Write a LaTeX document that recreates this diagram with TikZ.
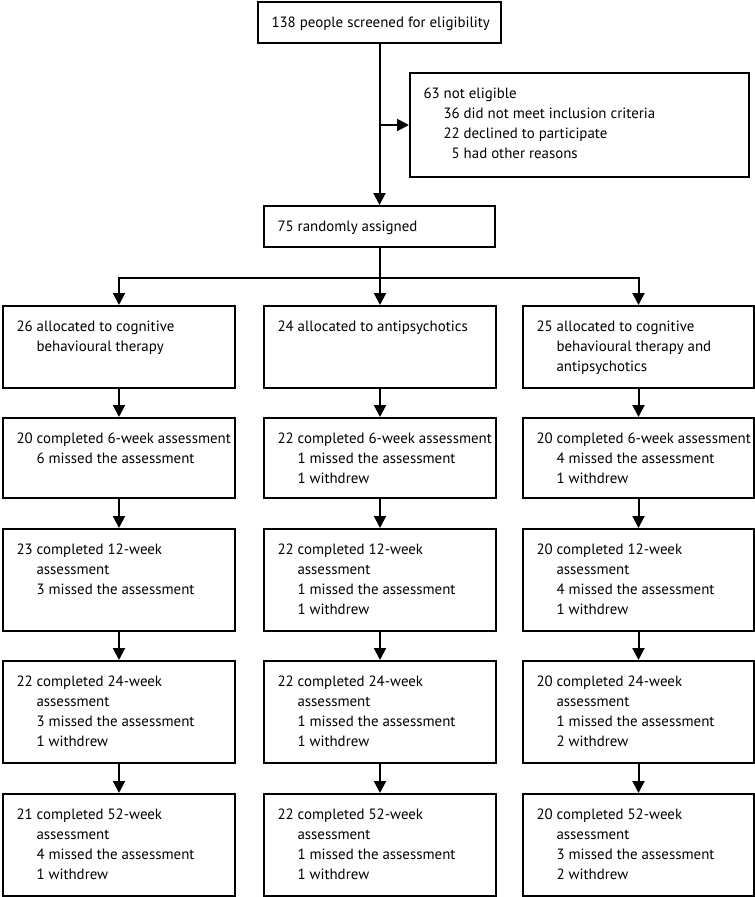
\documentclass[tikz,border=0pt]{standalone}
\usepackage{fontspec}
\setmainfont{PT Sans}
\usepackage{tikz}
\usetikzlibrary{
  calc,
  positioning,
  arrows.meta
}

\newcommand{\subind}{\hspace*{20pt}}
\newcommand{\cellbox}[3]{\parbox[c][#1][t]{\dimexpr#2-27pt\relax}{\vspace*{11pt}\begin{tabular}[t]{@{}l@{}}#3\end{tabular}}}

\begin{document}
\begin{tikzpicture}[>=Latex]
  \tikzset{
    flowbox/.style={
      draw, line width=2pt, anchor=north west,
      inner xsep=13.5pt, inner ysep=0pt,
      font=\fontsize{14.9}{20}\selectfont
    },
    arrow/.style={
      line width=2pt, -{Triangle[length=12pt,width=12pt]}
    },
  }
  \useasboundingbox (0,0) rectangle (755pt,-897pt);

  % enrolment
  \node[flowbox] (screened) at (257pt,-1pt)
    {\cellbox{41pt}{243pt}{138 people screened for eligibility}};
  \node[flowbox] (noteligible) at (409pt,-72pt)
    {\cellbox{104pt}{339pt}{63 not eligible\\
      \subind 36 did not meet inclusion criteria\\
      \subind 22 declined to participate\\
      \subind\phantom{0}5 had other reasons}};
  \node[flowbox] (random) at (263pt,-205pt)
    {\cellbox{41pt}{231pt}{75 randomly assigned}};

  % allocation
  \node[flowbox] (cbt-alloc) at (2pt,-305pt)
    {\cellbox{82pt}{232pt}{26 allocated to cognitive\\
      \subind behavioural therapy}};
  \node[flowbox] (ap-alloc) at (263pt,-305pt)
    {\cellbox{82pt}{232pt}{24 allocated to antipsychotics}};
  \node[flowbox] (both-alloc) at (522pt,-305pt)
    {\cellbox{82pt}{231pt}{25 allocated to cognitive\\
      \subind behavioural therapy and\\
      \subind antipsychotics}};

  % 6 weeks
  \node[flowbox] (cbt-wk6) at (2pt,-417pt)
    {\cellbox{80pt}{232pt}{20 completed 6-week assessment\\
      \subind 6 missed the assessment}};
  \node[flowbox] (ap-wk6) at (263pt,-417pt)
    {\cellbox{80pt}{232pt}{22 completed 6-week assessment\\
      \subind 1 missed the assessment\\
      \subind 1 withdrew}};
  \node[flowbox] (both-wk6) at (522pt,-417pt)
    {\cellbox{80pt}{231pt}{20 completed 6-week assessment\\
      \subind 4 missed the assessment\\
      \subind 1 withdrew}};

  % 12 weeks
  \node[flowbox] (cbt-wk12) at (2pt,-528pt)
    {\cellbox{102pt}{232pt}{23 completed 12-week\\
      \subind assessment\\
      \subind 3 missed the assessment}};
  \node[flowbox] (ap-wk12) at (263pt,-528pt)
    {\cellbox{102pt}{232pt}{22 completed 12-week\\
      \subind assessment\\
      \subind 1 missed the assessment\\
      \subind 1 withdrew}};
  \node[flowbox] (both-wk12) at (522pt,-528pt)
    {\cellbox{102pt}{231pt}{20 completed 12-week\\
      \subind assessment\\
      \subind 4 missed the assessment\\
      \subind 1 withdrew}};

  % 24 weeks
  \node[flowbox] (cbt-wk24) at (2pt,-660pt)
    {\cellbox{102pt}{232pt}{22 completed 24-week\\
      \subind assessment\\
      \subind 3 missed the assessment\\
      \subind 1 withdrew}};
  \node[flowbox] (ap-wk24) at (263pt,-660pt)
    {\cellbox{102pt}{232pt}{22 completed 24-week\\
      \subind assessment\\
      \subind 1 missed the assessment\\
      \subind 1 withdrew}};
  \node[flowbox] (both-wk24) at (522pt,-660pt)
    {\cellbox{102pt}{231pt}{20 completed 24-week\\
      \subind assessment\\
      \subind 1 missed the assessment\\
      \subind 2 withdrew}};

  % 52 weeks
  \node[flowbox] (cbt-wk52) at (2pt,-793pt)
    {\cellbox{102pt}{232pt}{21 completed 52-week\\
      \subind assessment\\
      \subind 4 missed the assessment\\
      \subind 1 withdrew}};
  \node[flowbox] (ap-wk52) at (263pt,-793pt)
    {\cellbox{102pt}{232pt}{22 completed 52-week\\
      \subind assessment\\
      \subind 1 missed the assessment\\
      \subind 1 withdrew}};
  \node[flowbox] (both-wk52) at (522pt,-793pt)
    {\cellbox{102pt}{231pt}{20 completed 52-week\\
      \subind assessment\\
      \subind 3 missed the assessment\\
      \subind 2 withdrew}};

  % connectors
  \coordinate (split) at (screened.south |- noteligible.west);
  \coordinate (fork) at ($(random.south)+(0,-30pt)$);

  \draw[arrow] (screened.south) -- (random.north);
  \draw[arrow] (split) -- (noteligible.west);
  \draw[line width=2pt] (random.south) -- (fork);
  \draw[arrow] (fork) -| (cbt-alloc.north);
  \draw[arrow] (fork) -- (fork -| ap-alloc.north) -- (ap-alloc.north);
  \draw[arrow] (fork) -| (both-alloc.north);

  \foreach \grp in {cbt,ap,both} {
    \foreach \from/\to in {alloc/wk6,wk6/wk12,wk12/wk24,wk24/wk52} {
      \draw[arrow] (\grp-\from.south) -- (\grp-\to.north);
    }
  }

\end{tikzpicture}
\end{document}
